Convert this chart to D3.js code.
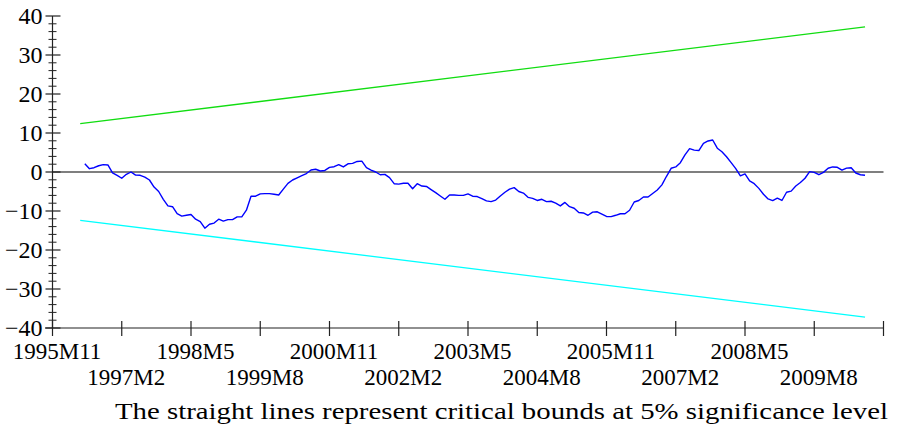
<!DOCTYPE html>
<html>
<head>
<meta charset="utf-8">
<script src="https://cdn.jsdelivr.net/npm/d3@7"></script>
<style>
  html, body { margin: 0; padding: 0; background: #fff; }
  svg { display: block; }
</style>
</head>
<body>
<svg id="chart" width="899" height="430"></svg>
<script>
// Recursive-residual CUSUM, monthly, starting at cusumStart
const cusumStart = "1996M6";
const cusum = [
  2.1, 0.85, 1.1, 1.6, 1.9, 1.8, -0.2, -0.85, -1.6, -0.6,
  0.0, -0.8, -0.85, -1.3, -2.05, -3.85, -5.0, -7.0, -8.7, -8.9,
  -10.7, -11.3, -11.1, -10.9, -12.1, -12.7, -14.4, -13.4, -13.1, -12.1,
  -12.6, -12.2, -12.2, -11.5, -11.5, -9.8, -6.2, -6.2, -5.6, -5.55,
  -5.55, -5.7, -5.9, -4.4, -2.9, -2.05, -1.5, -0.95, -0.4, 0.5,
  0.7, 0.25, 0.4, 1.2, 1.35, 1.9, 1.3, 2.1, 2.2, 2.7,
  2.8, 1.1, 0.5, 0.0, -0.7, -0.6, -1.45, -3.0, -3.1, -2.9,
  -2.9, -4.3, -3.0, -3.6, -3.7, -4.5, -5.3, -6.15, -7.0, -5.9,
  -5.9, -6.0, -6.0, -5.6, -6.2, -6.3, -6.8, -7.4, -7.6, -7.2,
  -6.15, -5.2, -4.4, -4.0, -5.0, -5.4, -6.5, -6.75, -7.3, -7.0,
  -7.6, -7.5, -8.0, -8.7, -7.8, -8.9, -9.3, -10.4, -10.5, -11.1,
  -10.3, -10.2, -10.8, -11.4, -11.45, -11.1, -10.7, -10.7, -9.8, -7.7,
  -7.3, -6.4, -6.4, -5.5, -4.6, -3.3, -1.1, 0.95, 1.3, 2.4,
  4.4, 6.0, 5.6, 5.5, 7.35, 7.95, 8.2, 6.1, 5.2, 3.9,
  2.4, 0.85, -1.0, -0.5, -2.3, -3.0, -4.2, -5.7, -6.9, -7.35,
  -6.7, -7.3, -5.2, -4.9, -3.6, -2.7, -1.6, 0.1, -0.1, -0.7,
  -0.1, 0.95, 1.3, 1.2, 0.5, 1.0, 1.1, -0.25, -0.7, -0.85
];

// 5% critical bounds (straight lines between their end points)
const boundPeriods = ["1996M5", "2010M7"];
const upperBound = [12.4, 37.2];
const lowerBound = [-12.4, -37.2];

// Axis ticks
const xTickPeriods = ["1995M11", "1997M2", "1998M5", "1999M8", "2000M11", "2002M2",
  "2003M5", "2004M8", "2005M11", "2007M2", "2008M5", "2009M8", "2010M11"];
const xTickLabels = ["1995M11", "1997M2", "1998M5", "1999M8", "2000M11", "2002M2",
  "2003M5", "2004M8", "2005M11", "2007M2", "2008M5", "2009M8"];
const yMajorTicks = [-40, -30, -20, -10, 0, 10, 20, 30, 40];
const yMinorTicks = d3.range(-40, 41, 2).filter(v => v % 10 !== 0);
const caption = "The straight lines represent critical bounds at 5% significance level";

// Pick the first installed serif face from a list of candidates
function pickFont(candidates) {
  const ctx = document.createElement("canvas").getContext("2d");
  const probe = "mmmmmmmmmwwwwwwwlli1995M11 The straight";
  const widthWith = f => { ctx.font = "72px " + f; return ctx.measureText(probe).width; };
  const baseMono = widthWith("monospace"), baseSans = widthWith("sans-serif");
  for (const c of candidates) {
    const q = `'${c}'`;
    if (widthWith(`${q}, monospace`) !== baseMono || widthWith(`${q}, sans-serif`) !== baseSans) {
      return `${q}, serif`;
    }
  }
  return "serif";
}
const FONT = pickFont(["Liberation Serif", "DejaVu Serif", "Tinos", "Noto Serif",
  "Times New Roman", "FreeSerif", "Nimbus Roman", "Georgia"]);

// "YYYYMm" -> running month number
function monthIndex(p) {
  const [y, m] = p.split("M").map(Number);
  return y * 12 + (m - 1);
}

const svg = d3.select("#chart");

const x = d3.scaleLinear()
  .domain([monthIndex("1995M11"), monthIndex("2010M11")])
  .range([52.5, 883.5]);
const y = d3.scaleLinear().domain([-40, 40]).range([328, 16]);

const axisColor = "#222";

// Zero reference line
svg.append("line")
  .attr("x1", x.range()[0]).attr("x2", x.range()[1])
  .attr("y1", y(0)).attr("y2", y(0))
  .attr("stroke", "#000").attr("stroke-width", 1.2);

// Critical bounds
const bline = d3.line().x(d => x(d[0])).y(d => y(d[1]));
const bx = boundPeriods.map(monthIndex);
svg.append("path")
  .attr("d", bline(bx.map((m, i) => [m, upperBound[i]])))
  .attr("fill", "none").attr("stroke", "#11dd11").attr("stroke-width", 1.3);
svg.append("path")
  .attr("d", bline(bx.map((m, i) => [m, lowerBound[i]])))
  .attr("fill", "none").attr("stroke", "#00ffff").attr("stroke-width", 1.3);

// CUSUM line
const m0 = monthIndex(cusumStart);
svg.append("path")
  .attr("d", bline(cusum.map((v, i) => [m0 + i, v])))
  .attr("fill", "none").attr("stroke", "#0000ff").attr("stroke-width", 1.4)
  .attr("stroke-linejoin", "round");

// Y axis
const yAxisG = svg.append("g").attr("transform", `translate(${x.range()[0]},0)`);
yAxisG.append("line")
  .attr("x1", 0).attr("x2", 0).attr("y1", y(40)).attr("y2", y(-40))
  .attr("stroke", axisColor).attr("stroke-width", 1.2);
yAxisG.selectAll("line.minor").data(yMinorTicks).join("line")
  .attr("class", "minor")
  .attr("x1", -4).attr("x2", 4)
  .attr("y1", d => y(d)).attr("y2", d => y(d))
  .attr("stroke", axisColor).attr("stroke-width", 1);
yAxisG.selectAll("line.major").data(yMajorTicks).join("line")
  .attr("class", "major")
  .attr("x1", -7).attr("x2", 8)
  .attr("y1", d => y(d)).attr("y2", d => y(d))
  .attr("stroke", axisColor).attr("stroke-width", 1.2);
yAxisG.selectAll("text").data(yMajorTicks).join("text")
  .attr("x", -10).attr("y", d => y(d)).attr("dy", "0.34em")
  .attr("text-anchor", "end").attr("font-size", 24)
  .attr("font-family", FONT)
  .text(d => d3.format("d")(d));

// X axis
const xAxisG = svg.append("g").attr("transform", `translate(0,${y(-40)})`);
xAxisG.append("line")
  .attr("x1", 45).attr("x2", x.range()[1])
  .attr("y1", 0).attr("y2", 0)
  .attr("stroke", axisColor).attr("stroke-width", 1.2);
xAxisG.selectAll("line.tick").data(xTickPeriods).join("line")
  .attr("class", "tick")
  .attr("x1", d => x(monthIndex(d))).attr("x2", d => x(monthIndex(d)))
  .attr("y1", -7).attr("y2", 8)
  .attr("stroke", axisColor).attr("stroke-width", 1.2);
xAxisG.selectAll("text").data(xTickLabels).join("text")
  .attr("x", d => x(monthIndex(d)) + 4.5)
  .attr("y", (d, i) => i % 2 === 0 ? 31 : 57)
  .attr("text-anchor", "middle").attr("font-size", 23)
  .attr("font-family", FONT)
  .text(d => d);

// Caption
svg.append("text")
  .attr("x", 115).attr("y", 419)
  .attr("text-anchor", "start").attr("font-size", 24)
  .attr("font-family", FONT)
  .attr("textLength", 773).attr("lengthAdjust", "spacingAndGlyphs")
  .text(caption);
</script>
</body>
</html>
